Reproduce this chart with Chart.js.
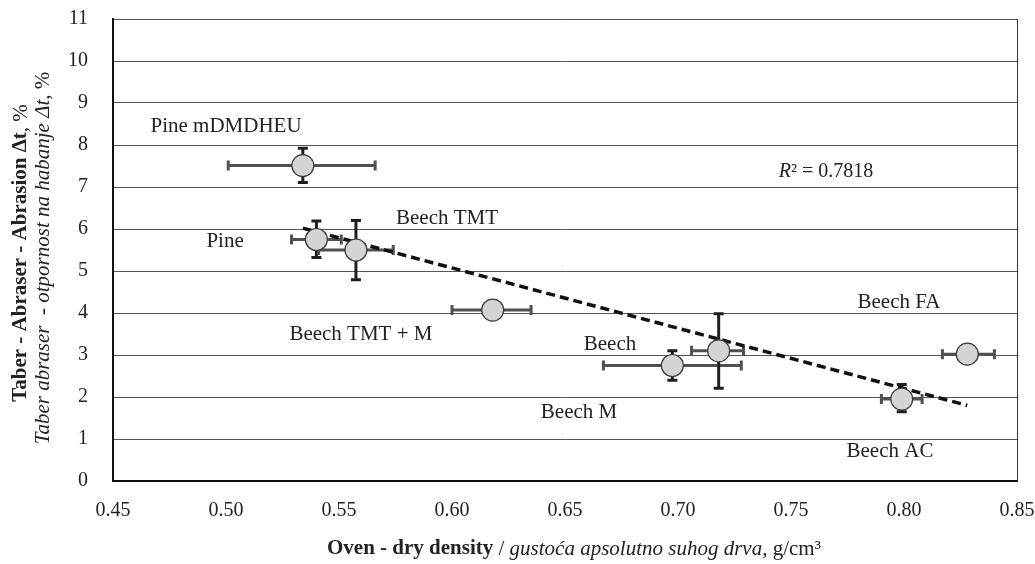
<!DOCTYPE html>
<html>
<head>
<meta charset="utf-8">
<script src="https://cdn.jsdelivr.net/npm/chart.js@4.4.1/dist/chart.umd.min.js"></script>
<style>
html,body{margin:0;padding:0;background:#fff;}
#wrap{width:1035px;height:564px;}
</style>
</head>
<body>
<div id="wrap"><canvas id="c" width="1035" height="564"></canvas></div>
<script>
// ---- data ----
const samples   = ['Pine mDMDHEU','Pine','Beech TMT','Beech TMT + M','Beech','Beech M','Beech AC','Beech FA'];
const density   = [0.534, 0.540, 0.5575, 0.618, 0.6975, 0.718, 0.799, 0.828];
const abrasion  = [7.51, 5.75, 5.50, 4.07, 2.75, 3.10, 1.95, 3.02];
const densLow   = [0.501, 0.529, 0.541, 0.600, 0.667, 0.706, 0.790, 0.817];
const densHigh  = [0.566, 0.551, 0.574, 0.635, 0.728, 0.729, 0.808, 0.840];
const abrLow    = [7.11, 5.32, 4.79, 4.07, 2.40, 2.21, 1.65, 3.02];
const abrHigh   = [7.92, 6.19, 6.20, 4.07, 3.10, 3.98, 2.30, 3.02];
const trendX    = [0.534, 0.828];
const trendY    = [6.02, 1.80];
const labelText = ['Pine mDMDHEU','Pine','Beech TMT','Beech TMT + M','Beech','Beech M','Beech FA','Beech AC'];
const labelX    = [0.5000, 0.4996, 0.5978, 0.5597, 0.6699, 0.6562, 0.7978, 0.7938];
const labelY    = [8.43, 5.71, 6.26, 3.48, 3.26, 1.64, 4.26, 0.71];
const rSquared  = '0.7818';
const rSqPos    = [0.7655, 7.36];
const xTicks    = [0.45, 0.50, 0.55, 0.60, 0.65, 0.70, 0.75, 0.80, 0.85];
const yTicks    = [0,1,2,3,4,5,6,7,8,9,10,11];

const SERIF = '"Liberation Serif", "Times New Roman", serif';

function drawSegments(ctx, segs, cx, cy, rot){
  ctx.save();
  ctx.translate(cx, cy);
  if (rot) ctx.rotate(rot);
  ctx.textBaseline = 'middle';
  ctx.textAlign = 'left';
  let total = 0;
  segs.forEach(s => { ctx.font = s.f; total += ctx.measureText(s.t).width; });
  let x = -total/2;
  segs.forEach(s => { ctx.font = s.f; ctx.fillStyle = '#222'; ctx.fillText(s.t, x, 0); x += ctx.measureText(s.t).width; });
  ctx.restore();
}

const errorBars = {
  id: 'errorBars',
  beforeDatasetsDraw(chart){
    const ctx = chart.ctx, xs = chart.scales.x, ys = chart.scales.y;
    ctx.save();
    ctx.lineCap = 'butt';
    for (let i = 0; i < density.length; i++){
      const cx = xs.getPixelForValue(density[i]);
      const cy = ys.getPixelForValue(abrasion[i]);
      const xl = xs.getPixelForValue(densLow[i]), xh = xs.getPixelForValue(densHigh[i]);
      ctx.strokeStyle = '#505050';
      ctx.lineWidth = 3;
      ctx.beginPath(); ctx.moveTo(xl, cy); ctx.lineTo(xh, cy); ctx.stroke();
      ctx.beginPath(); ctx.moveTo(xl, cy-5); ctx.lineTo(xl, cy+5); ctx.moveTo(xh, cy-5); ctx.lineTo(xh, cy+5); ctx.stroke();
      const yl = ys.getPixelForValue(abrLow[i]), yh = ys.getPixelForValue(abrHigh[i]);
      if (Math.abs(yl-yh) > 1){
        ctx.strokeStyle = '#1e1e1e';
        ctx.lineWidth = 3;
        ctx.beginPath(); ctx.moveTo(cx, yl); ctx.lineTo(cx, yh); ctx.stroke();
        ctx.beginPath(); ctx.moveTo(cx-5, yl); ctx.lineTo(cx+5, yl); ctx.moveTo(cx-5, yh); ctx.lineTo(cx+5, yh); ctx.stroke();
      }
    }
    ctx.restore();
  }
};

const texts = {
  id: 'texts',
  beforeDraw(chart){
    const ctx = chart.ctx;
    ctx.save();
    ctx.fillStyle = '#fff';
    ctx.fillRect(0,0,chart.width,chart.height);
    ctx.restore();
  },
  afterDraw(chart){
    const ctx = chart.ctx, xs = chart.scales.x, ys = chart.scales.y, a = chart.chartArea;
    ctx.save();
    ctx.strokeStyle = '#333'; ctx.lineWidth = 1;
    ctx.beginPath(); ctx.moveTo(a.right+0.5, a.top); ctx.lineTo(a.right+0.5, a.bottom); ctx.stroke();
    ctx.font = '21px ' + SERIF;
    ctx.fillStyle = '#222';
    ctx.textAlign = 'center'; ctx.textBaseline = 'middle';
    for (let i = 0; i < labelText.length; i++){
      ctx.fillText(labelText[i], xs.getPixelForValue(labelX[i]), ys.getPixelForValue(labelY[i]));
    }
    drawSegments(ctx, [
      {t:'R', f:'italic 20px ' + SERIF},
      {t:'² = ' + rSquared, f:'20px ' + SERIF}
    ], xs.getPixelForValue(rSqPos[0]), ys.getPixelForValue(rSqPos[1]), 0);
    drawSegments(ctx, [
      {t:'Oven - dry density', f:'bold 21px ' + SERIF},
      {t:' / ', f:'21px ' + SERIF},
      {t:'gustoća apsolutno suhog drva,', f:'italic 21px ' + SERIF},
      {t:' g/cm³', f:'21px ' + SERIF}
    ], 574, 549, 0);
    drawSegments(ctx, [
      {t:'Taber - Abraser - Abrasion Δt', f:'bold 21px ' + SERIF},
      {t:', %', f:'21px ' + SERIF}
    ], 21, 253, -Math.PI/2);
    drawSegments(ctx, [
      {t:'Taber abraser  - otpornost na habanje Δt,', f:'italic 21px ' + SERIF},
      {t:' %', f:'21px ' + SERIF}
    ], 43, 258, -Math.PI/2);
    ctx.restore();
  }
};

new Chart(document.getElementById('c'), {
  type: 'scatter',
  data: {
    datasets: [
      {
        type: 'line',
        label: 'trend',
        data: trendX.map((x,i)=>({x, y: trendY[i]})),
        borderColor: '#111',
        borderWidth: 3.5,
        borderDash: [9, 5],
        pointRadius: 0,
        fill: false,
        order: 2
      },
      {
        label: 'samples',
        data: density.map((x,i)=>({x, y: abrasion[i]})),
        pointRadius: 11,
        pointHoverRadius: 11,
        backgroundColor: '#d4d4d4',
        borderColor: '#3a3a3a',
        borderWidth: 1.2,
        order: 1
      }
    ]
  },
  options: {
    responsive: false,
    animation: false,
    events: [],
    layout: { padding: { top: 19, right: 18, left: 0, bottom: 0 } },
    plugins: { legend: { display: false }, tooltip: { enabled: false } },
    scales: {
      x: {
        type: 'linear',
        min: 0.45, max: 0.85,
        afterBuildTicks(s){ s.ticks = xTicks.map(v=>({value:v})); },
        afterFit(s){ s.height = 83; s.paddingLeft = 0; s.paddingRight = 0; },
        ticks: {
          font: { family: SERIF, size: 20 },
          color: '#222',
          padding: 18,
          maxRotation: 0,
          callback: v => Number(v).toFixed(2)
        },
        grid: { display: false, drawTicks: false },
        border: { display: true, color: '#111', width: 2 }
      },
      y: {
        type: 'linear',
        min: 0, max: 11,
        afterBuildTicks(s){ s.ticks = yTicks.map(v=>({value:v})); },
        afterFit(s){ s.width = 113; s.paddingTop = 0; s.paddingBottom = 0; },
        ticks: {
          font: { family: SERIF, size: 20 },
          color: '#222',
          padding: 25
        },
        grid: { color: '#555', lineWidth: 1, drawTicks: false },
        border: { display: true, color: '#111', width: 2 }
      }
    }
  },
  plugins: [texts, errorBars]
});
</script>
</body>
</html>
